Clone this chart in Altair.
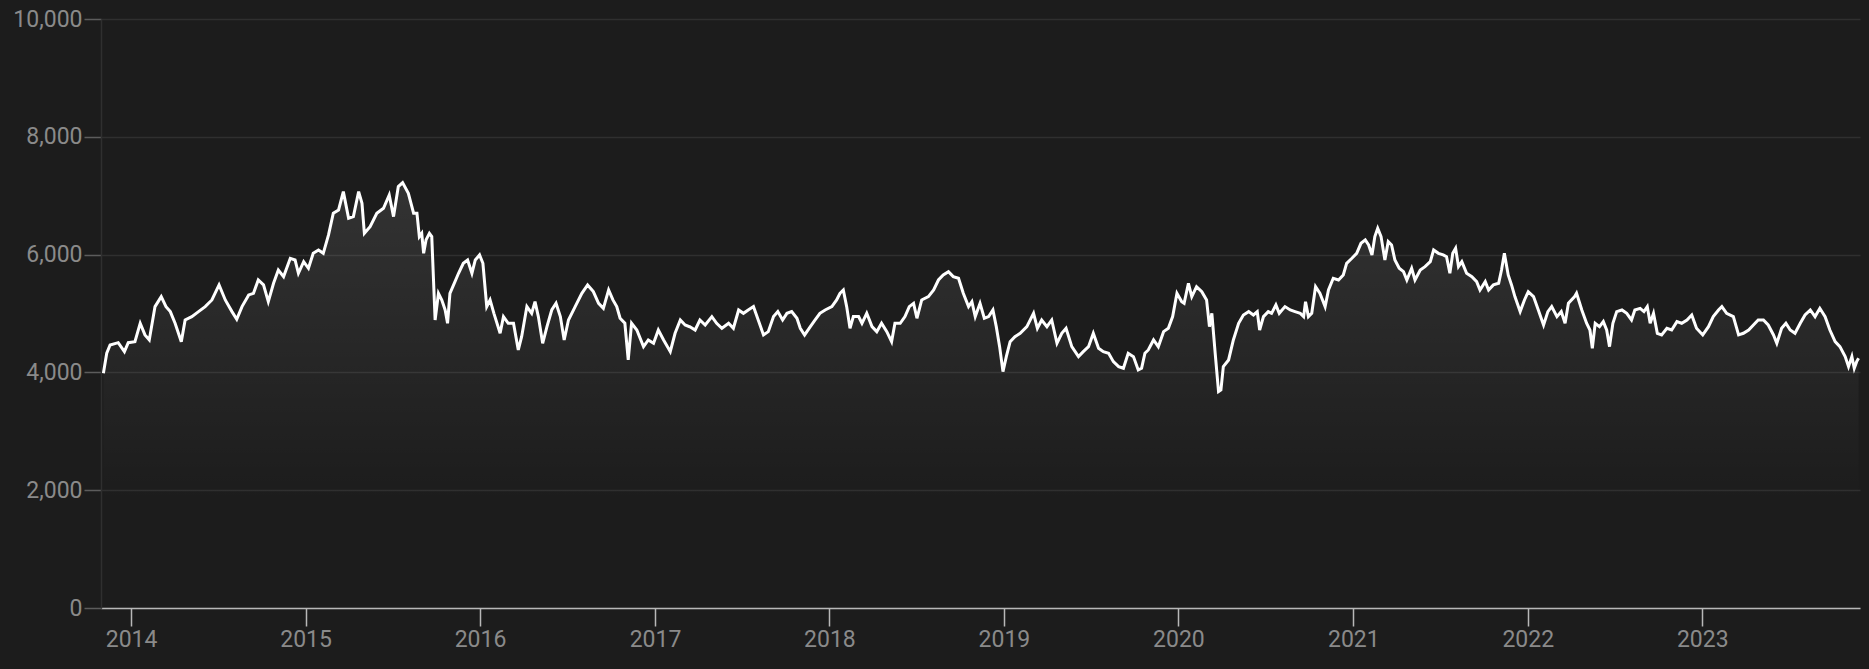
import altair as alt
import pandas as pd

# Day offsets from 2014-01-01 and index values
days_2014 = [-58, -51, -44, -27, -14, -6, 8, 19, 29, 38, 50, 63, 73, 82, 92, 105, 113, 127, 141, 155,
             169, 184, 197, 211, 221, 232, 246, 256, 266, 277, 287, 298, 308, 319, 333, 343, 350, 361,
             371, 381, 392, 402, 413, 423, 434, 444, 455, 465, 476, 483, 488, 500, 514, 528, 540, 549]
vals_2014 = [3985, 4325, 4466, 4505, 4352, 4505, 4522, 4834, 4636, 4551, 5117, 5287, 5117, 5032, 4834,
             4522, 4890, 4947, 5032, 5117, 5230, 5485, 5230, 5032, 4902, 5117, 5315, 5343, 5569, 5485,
             5201, 5513, 5739, 5626, 5937, 5909, 5683, 5880, 5768, 6022, 6079, 6022, 6334, 6702, 6758,
             7069, 6617, 6645, 7069, 6871, 6362, 6475, 6702, 6786, 7013, 6645]

days_2015 = [559, 568, 580, 591, 598, 603, 608, 612, 617, 624, 629, 636, 643, 650, 657, 662, 667, 676,
             685, 695, 704, 713, 720, 729, 736, 744, 751, 759, 772, 779, 789, 800, 810, 817, 828, 838,
             845, 852, 861, 870, 880, 889, 898, 906, 915, 929, 943, 955, 967, 978, 988, 999, 1008, 1016,
             1023, 1033, 1040, 1047, 1058, 1072, 1082, 1093, 1103, 1114, 1128, 1138, 1149, 1159, 1168]
vals_2015 = [7155, 7223, 7041, 6702, 6702, 6306, 6362, 6022, 6249, 6362, 6306, 4890, 5343, 5230, 5060,
             4834, 5343, 5513, 5683, 5852, 5909, 5683, 5909, 5994, 5852, 5117, 5230, 5003, 4664, 4947,
             4834, 4834, 4381, 4607, 5117, 5003, 5201, 4947, 4494, 4777, 5060, 5173, 4947, 4551, 4890,
             5117, 5343, 5485, 5371, 5173, 5088, 5400, 5230, 5117, 4919, 4834, 4211, 4834, 4720, 4437,
             4551, 4494, 4720, 4551, 4352, 4664, 4890, 4805, 4777]

days_2017 = [1169, 1180, 1190, 1201, 1215, 1225, 1236, 1250, 1260, 1271, 1281, 1291, 1302, 1312, 1323,
             1333, 1344, 1353, 1363, 1372, 1382, 1393, 1400, 1409, 1421, 1431, 1441, 1452, 1466, 1476,
             1483, 1490, 1497, 1504, 1511, 1522, 1529, 1539, 1550, 1560, 1570, 1581, 1591, 1598, 1609,
             1619, 1628, 1637, 1644, 1654, 1668, 1679, 1689, 1699, 1710, 1720, 1731, 1741, 1752, 1759,
             1766, 1776, 1785]
vals_2017 = [4777, 4720, 4890, 4805, 4947, 4834, 4749, 4834, 4749, 5060, 5003, 5060, 5117, 4890, 4636,
             4692, 4947, 5032, 4890, 5003, 5032, 4919, 4749, 4636, 4777, 4890, 5003, 5060, 5117, 5230,
             5343, 5400, 5117, 4749, 4947, 4947, 4834, 5003, 4777, 4692, 4834, 4692, 4522, 4834, 4834,
             4947, 5117, 5173, 4919, 5230, 5287, 5400, 5569, 5654, 5711, 5626, 5598, 5343, 5117, 5201,
             4947, 5173, 4919]

days_2019 = [1794, 1803, 1810, 1817, 1824, 1831, 1839, 1849, 1860, 1874, 1888, 1896, 1905, 1916, 1926,
             1937, 1947, 1956, 1968, 1982, 1992, 2003, 2013, 2024, 2034, 2045, 2055, 2066, 2076, 2086,
             2097, 2107, 2114, 2121, 2128, 2139, 2149, 2160, 2170, 2179, 2188, 2198, 2203, 2212, 2219,
             2229, 2240, 2250, 2256, 2261, 2268, 2275, 2280, 2285, 2296, 2306, 2317, 2327, 2338, 2348,
             2356, 2361, 2369, 2379, 2386, 2395, 2402]
vals_2019 = [4947, 5060, 4777, 4437, 4013, 4268, 4522, 4607, 4664, 4777, 5003, 4749, 4890, 4777, 4890,
             4494, 4664, 4749, 4437, 4268, 4352, 4437, 4664, 4409, 4352, 4325, 4183, 4098, 4070, 4325,
             4268, 4041, 4070, 4325, 4381, 4551, 4437, 4692, 4749, 4947, 5343, 5201, 5173, 5513, 5287,
             5456, 5371, 5230, 4777, 5003, 4325, 3673, 3701, 4098, 4211, 4551, 4834, 4975, 5032, 4975,
             5032, 4720, 4947, 5032, 5003, 5145, 5003]

days_2021 = [2414, 2425, 2435, 2446, 2453, 2457, 2463, 2470, 2478, 2487, 2498, 2505, 2515, 2526, 2536,
             2543, 2554, 2564, 2573, 2582, 2589, 2596, 2602, 2608, 2615, 2623, 2630, 2637, 2644, 2653,
             2662, 2669, 2679, 2686, 2697, 2707, 2718, 2725, 2735, 2745, 2752, 2759, 2765, 2771, 2777,
             2784, 2794, 2805, 2815, 2822, 2833, 2840, 2850, 2861, 2867, 2873, 2881, 2888, 2895, 2906,
             2915, 2923, 2934, 2944, 2955, 2964, 2972, 2983, 2992, 3000, 3007, 3020]
vals_2021 = [5117, 5060, 5032, 5003, 4947, 5201, 4947, 5003, 5456, 5343, 5117, 5400, 5598, 5569, 5654,
             5852, 5937, 6022, 6192, 6249, 6164, 5994, 6306, 6447, 6306, 5909, 6220, 6164, 5909, 5768,
             5711, 5569, 5768, 5569, 5739, 5796, 5880, 6079, 6022, 5994, 5965, 5683, 6022, 6107, 5796,
             5880, 5683, 5626, 5541, 5400, 5541, 5400, 5485, 5513, 5739, 6022, 5654, 5485, 5287, 5032,
             5230, 5371, 5287, 5060, 4805, 5032, 5117, 4947, 5032, 4834, 5173, 5287]

days_2022 = [3024, 3035, 3045, 3052, 3057, 3063, 3072, 3080, 3087, 3093, 3100, 3108, 3119, 3129, 3139,
             3146, 3157, 3165, 3172, 3178, 3185, 3193, 3202, 3213, 3223, 3234, 3244, 3255, 3265, 3275,
             3288, 3300, 3310, 3321, 3328, 3338, 3352, 3363, 3373, 3384, 3394, 3404, 3415, 3425, 3436,
             3443, 3453, 3462, 3471, 3481, 3492, 3502, 3513, 3523, 3533, 3544, 3554, 3565, 3575, 3586,
             3593, 3600, 3605, 3610, 3614]
vals_2022 = [5343, 5060, 4834, 4720, 4409, 4834, 4777, 4862, 4720, 4437, 4834, 5032, 5060, 5003, 4890,
             5060, 5088, 5032, 5117, 4834, 5003, 4664, 4636, 4749, 4720, 4862, 4834, 4890, 4975, 4749,
             4636, 4777, 4947, 5060, 5117, 5003, 4947, 4636, 4664, 4720, 4805, 4890, 4890, 4805, 4636,
             4494, 4749, 4834, 4720, 4664, 4834, 4975, 5060, 4947, 5088, 4947, 4720, 4522, 4437, 4268,
             4098, 4268, 4070, 4183, 4240]

y_ticks = [0, 2000, 4000, 6000, 8000, 10000]

days = days_2014 + days_2015 + days_2017 + days_2019 + days_2021 + days_2022
vals = vals_2014 + vals_2015 + vals_2017 + vals_2019 + vals_2021 + vals_2022

df = pd.DataFrame({
    "date": pd.Timestamp("2014-01-01") + pd.to_timedelta(days, unit="D"),
    "value": vals,
})

BG = "#1c1c1c"
GRID = "#2f2f2f"
LABEL = "#8a8a8a"

x_enc = alt.X(
    "date:T",
    scale=alt.Scale(domain=[alt.DateTime(year=2013, month=10, date=30),
                            alt.DateTime(year=2023, month=11, date=27)]),
    axis=alt.Axis(format="%Y", tickCount="year", grid=False, title=None,
                  domainColor="#b8b8b8", domainWidth=1.5, tickColor="#b8b8b8",
                  tickWidth=1.5, tickSize=18, labelPadding=2, labelColor=LABEL,
                  labelFontSize=23, labelFont="Roboto", labelFlush=False),
)
y_enc = alt.Y(
    "value:Q",
    scale=alt.Scale(domain=[0, 10000], nice=False),
    axis=alt.Axis(values=y_ticks, format=",.0f", title=None, grid=True,
                  gridColor=GRID, gridWidth=1.5, domainColor=GRID, domainWidth=1.5,
                  tickColor="#5c5c5c", tickWidth=1.5, tickSize=17, labelPadding=2,
                  labelColor=LABEL, labelFontSize=23, labelFont="Roboto"),
)

area = alt.Chart(df).mark_area(
    color=alt.Gradient(
        gradient="linear",
        stops=[alt.GradientStop(color="rgba(255,255,255,0.10)", offset=0),
               alt.GradientStop(color="rgba(255,255,255,0.0)", offset=0.75)],
        x1=1, x2=1, y1=0, y2=1,
    ),
).encode(x=x_enc, y=y_enc)

line = alt.Chart(df).mark_line(color="#ffffff", strokeWidth=3).encode(x=x_enc, y=y_enc)

chart = (area + line).properties(
    width=1759,
    height=589,
    background=BG,
    padding={"left": 101, "top": 19, "right": 8, "bottom": 55},
    autosize=alt.AutoSizeParams(type="none"),
).configure_view(stroke=None)

chart.save("out.html", embed_options={"renderer": "svg", "actions": False,
                                      "defaultStyle": "body { background: #1c1c1c; margin: 0; overflow: hidden; }"})
